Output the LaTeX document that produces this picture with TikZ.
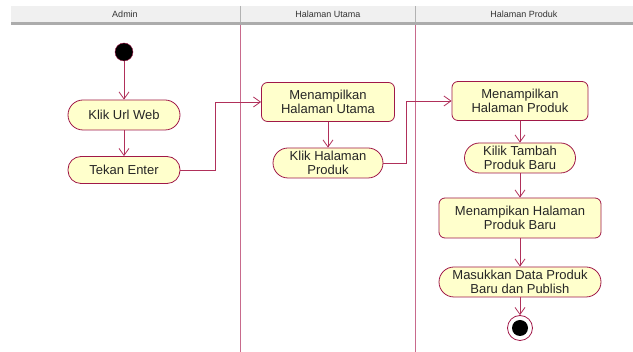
\documentclass[tikz,border=0pt]{standalone}
\usepackage{fontspec}
\setmainfont{Liberation Sans}
\usetikzlibrary{arrows.meta}
\definecolor{garis}{HTML}{B0305A}
\definecolor{lajur}{HTML}{C86A8C}
\definecolor{isi}{HTML}{FFFFCC}
\definecolor{tepi}{HTML}{A01848}
\tikzset{
  aksi/.style={draw=tepi, fill=isi, thick, align=center, font=\fontsize{13}{13.5}\selectfont,
    inner sep=2pt, text=black!85},
  kapsul/.style={aksi, rounded corners=15pt, minimum height=30pt},
  kotak/.style={aksi, rounded corners=6pt, minimum height=39pt},
  alur/.style={draw=garis, thick, -{Straight Barb[length=7pt,width=10pt]}},
  judul/.style={font=\fontsize{9}{10}\selectfont, text=black!80}
}
\begin{document}
\begin{tikzpicture}[x=1pt,y=-1pt]
        \useasboundingbox (0,0) rectangle (633,352);
        %header lajur
        \fill[gray!12] (11,6) rectangle (633,22);
        \fill[gray!65] (11,22) rectangle (633,25);
        \draw[gray!60, thick] (240,6)--(240,22) (415,6)--(415,22);
        \node[judul] (hadmin) at (125,14) {Admin};
        \node[judul] (hutama) at (328,14) {Halaman Utama};
        \node[judul] (hproduk) at (524,14) {Halaman Produk};
        %garis lajur
        \draw[lajur, thick] (240,25)--(240,352) (415,25)--(415,352);
        %awal
        \node[circle, fill=black, draw=tepi, minimum size=18pt, inner sep=0pt] (mulai) at (124,52) {};
        %aksi admin
        \node[kapsul, minimum width=112pt] (klik) at (124,115) {Klik Url Web};
        \node[kapsul, minimum width=112pt, minimum height=27pt, rounded corners=13pt] (tekan) at (124,170) {Tekan Enter};
        %aksi halaman utama
        \node[kotak, minimum width=133pt] (utama) at (328,102) {Menampilkan\\Halaman Utama};
        \node[kapsul, minimum width=110pt] (klikproduk) at (328,163) {Klik Halaman\\Produk};
        %aksi halaman produk
        \node[kotak, minimum width=136pt] (produk) at (520,101) {Menampilkan\\Halaman Produk};
        \node[kapsul, minimum width=111pt] (tambah) at (520,158) {Kilik Tambah\\Produk Baru};
        \node[kotak, minimum width=162pt, minimum height=40pt] (baru) at (520,218) {Menampikan Halaman\\Produk Baru};
        \node[kapsul, minimum width=162pt] (masuk) at (520,282) {Masukkan Data Produk\\Baru dan Publish};
        %akhir
        \node[circle, draw=tepi, fill=white, thick, minimum size=25pt, inner sep=0pt] (selesai) at (520,328) {};
        \node[circle, fill=black, minimum size=16pt, inner sep=0pt] (selesaidalam) at (selesai) {};
        %alur
        \draw[alur] (mulai)--(klik);
        \draw[alur] (klik)--(tekan);
        \draw[alur] (tekan.east)--++(35,0) |- (utama.west);
        \draw[alur] (utama)--(klikproduk);
        \draw[alur] (klikproduk.east)--++(23,0) |- (produk.west);
        \draw[alur] (produk)--(tambah);
        \draw[alur] (tambah)--(baru);
        \draw[alur] (baru)--(masuk);
        \draw[alur] (masuk)--(selesai);
    \end{tikzpicture}
\end{document}
